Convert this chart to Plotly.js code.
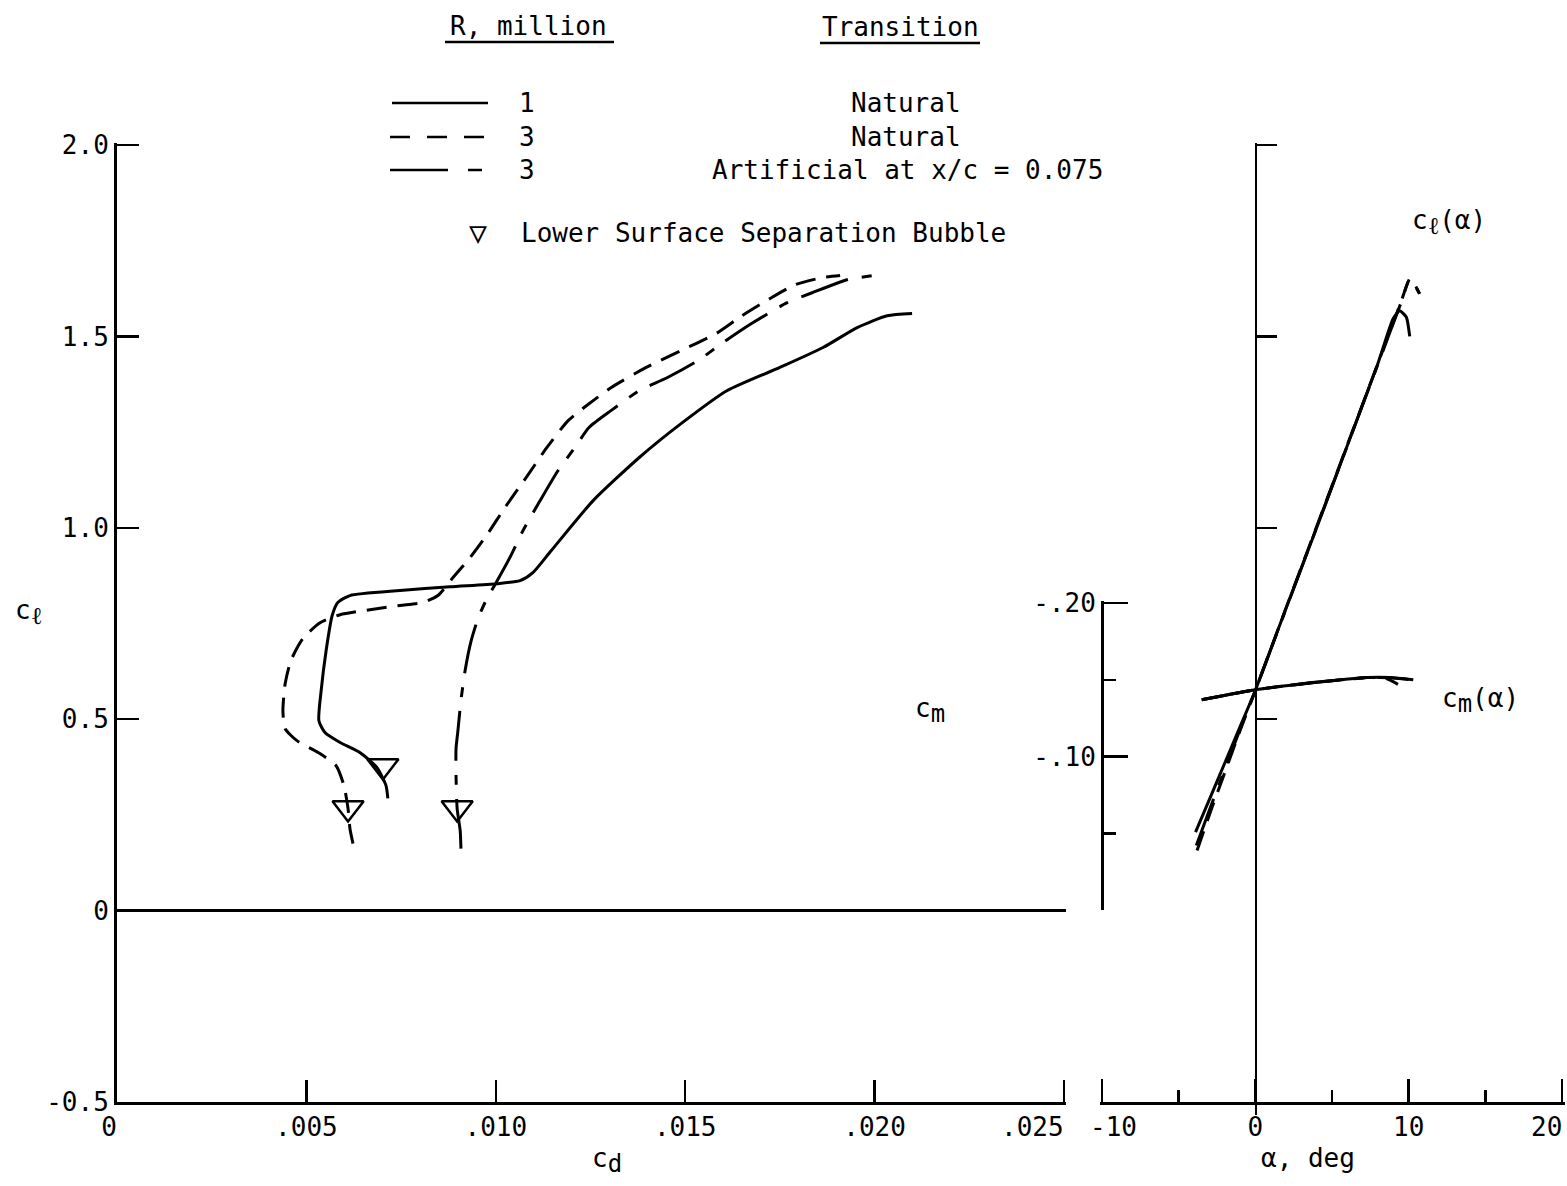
<!DOCTYPE html>
<html>
<head>
<meta charset="utf-8">
<script src="https://cdn.plot.ly/plotly-3.0.1.min.js"></script>
<style>html,body{margin:0;padding:0;background:#fff;}#chart{width:1567px;height:1186px;}</style>
</head>
<body>
<div id="chart"></div>
<script>
// ---------------- DATA ----------------
// Drag polar, R = 1 million, natural transition
const cd_R1n = [0.00715,0.00710,0.00686,0.00641,0.00589,0.00549,0.00533,0.00539,0.00552,0.00568,0.00583,0.00615,0.00747,0.00879,0.01003,0.01064,0.01098,0.01146,0.01257,0.01378,0.01489,0.01610,0.01750,0.01864,0.01954,0.02033,0.02099];
const cl_R1n = [0.293,0.327,0.374,0.413,0.439,0.465,0.496,0.575,0.679,0.771,0.805,0.823,0.836,0.846,0.854,0.862,0.883,0.940,1.071,1.183,1.272,1.358,1.419,1.471,1.523,1.554,1.560];
// R = 3 million, natural transition
const cd_R3n = [0.00623,0.00615,0.00610,0.00599,0.00578,0.00531,0.00475,0.00444,0.00438,0.00444,0.00459,0.00491,0.00536,0.00589,0.00668,0.00747,0.00808,0.00847,0.00887,0.00932,0.00979,0.01024,0.01080,0.01135,0.01191,0.01246,0.01304,0.01397,0.01489,0.01534,0.01581,0.01650,0.01724,0.01790,0.01864,0.01909];
const cl_R3n = [0.175,0.214,0.266,0.327,0.379,0.413,0.444,0.475,0.522,0.593,0.653,0.711,0.752,0.773,0.786,0.797,0.805,0.823,0.870,0.922,0.985,1.053,1.131,1.210,1.280,1.324,1.366,1.419,1.463,1.484,1.507,1.554,1.599,1.635,1.654,1.659];
// R = 3 million, artificial transition at x/c = 0.075
const cd_R3a = [0.00908,0.00906,0.00898,0.00895,0.00895,0.00900,0.00908,0.00919,0.00935,0.00953,0.00974,0.01001,0.01037,0.01072,0.01117,0.01164,0.01209,0.01246,0.01304,0.01378,0.01452,0.01534,0.01600,0.01674,0.01769,0.01835,0.01927,0.01998];
const cl_R3a = [0.162,0.209,0.266,0.353,0.423,0.470,0.549,0.627,0.705,0.763,0.810,0.857,0.922,0.993,1.071,1.149,1.210,1.262,1.306,1.358,1.392,1.437,1.484,1.533,1.588,1.614,1.648,1.659];
// Lower surface separation bubble symbols
const bubble_cd = [0.00702,0.00610,0.00898];
const bubble_cl = [0.378,0.268,0.268];

// Lift curves c_l(alpha)
const alpha_cl_R1n = [-3.9,-3.0,-2.0,-1.0,0.0,2.0,4.0,6.0,8.0,8.97,9.41,9.85,10.07];
const cl_alpha_R1n = [0.205,0.290,0.385,0.480,0.575,0.790,1.000,1.215,1.430,1.545,1.567,1.550,1.500];
const alpha_cl_R3n = [-3.8,-3.0,-2.0,-1.0,0.0,2.0,5.0,8.0,9.5,10.07,10.4,10.72];
const cl_alpha_R3n = [0.157,0.250,0.360,0.470,0.575,0.790,1.110,1.430,1.590,1.650,1.635,1.611];
const alpha_cl_R3a = [-3.85,-3.0,-2.0,-1.0,0.0,2.0,5.0,8.0,9.5,10.05,10.4,10.7];
const cl_alpha_R3a = [0.170,0.262,0.368,0.473,0.575,0.788,1.108,1.428,1.588,1.648,1.633,1.612];

// Pitching moment c_m(alpha)
const alpha_cm_R1n = [-3.5,0.0,3.7,7.3,8.8,10.3];
const cm_R1n = [-0.137,-0.1435,-0.148,-0.1515,-0.1515,-0.150];
const alpha_cm_R3n = [-3.5,0.0,3.7,7.3,8.5,9.3];
const cm_R3n = [-0.137,-0.1435,-0.148,-0.1515,-0.151,-0.147];
const alpha_cm_R3a = [-3.4,0.0,3.7,7.3,8.8,10.0];
const cm_R3a = [-0.1372,-0.1435,-0.1482,-0.1513,-0.1513,-0.1502];

// Tick values / labels (end labels are placed beside their ticks below)
const cdTicks = [0,0.005,0.010,0.015,0.020,0.025];
const cdTickText = ['0\u00a0','.005','.010','.015','.020',''];
const cdEndLabel = '.025';
const clTicks = [-0.5,0,0.5,1.0,1.5,2.0];
const clTickText = ['-0.5','0','0.5','1.0','1.5','2.0'];
const clRightTicks = [0.5,1.0,1.5,2.0];
const alphaTicks = [-10,0,10,20];
const alphaTickText = ['','0','10',''];
const alphaStartLabel = '-10';
const alphaEndLabel = '20';
const alphaMinor = [-5,5,15];
const cmTicks = [-0.20,-0.10];
const cmTickText = ['-.20','-.10'];
const cmMinor = [-0.15,-0.05];

// ---------------- STYLE ----------------
const W = 1567, H = 1186;
const fx = p => p / W;
const fy = p => 1 - p / H;
const FONT = 'DejaVu Sans Mono, monospace';
const DASH = '20px,11px';
const DASHDOT = '50px,14px,10px,14px';
const LW = 3;
const sub = s => '<sub><span style="font-size:24px">' + s + '</span></sub>';

// pixel scales (px per data unit) used to extend axis ends by a couple of pixels
const CD_PX = 947 / 0.025, CL_PX = 382.8, AL_PX = 460 / 30, CM_PX = 307 / 0.2;

const traces = [
  {x: cd_R1n, y: cl_R1n, xaxis:'x', yaxis:'y', mode:'lines', line:{color:'black', width:LW, shape:'spline', smoothing:0.6}},
  {x: cd_R3n, y: cl_R3n, xaxis:'x', yaxis:'y', mode:'lines', line:{color:'black', width:LW, dash:DASH, shape:'spline', smoothing:0.6}},
  {x: cd_R3a, y: cl_R3a, xaxis:'x', yaxis:'y', mode:'lines', line:{color:'black', width:LW, dash:DASHDOT, shape:'spline', smoothing:0.6}},
  {x: bubble_cd, y: bubble_cl, xaxis:'x', yaxis:'y', mode:'markers', marker:{symbol:'triangle-down-open', size:27, color:'black', line:{width:2.5, color:'black'}}},
  {x: alpha_cl_R1n, y: cl_alpha_R1n, xaxis:'x2', yaxis:'y2', mode:'lines', line:{color:'black', width:LW, shape:'spline', smoothing:0.5}},
  {x: alpha_cl_R3n, y: cl_alpha_R3n, xaxis:'x2', yaxis:'y2', mode:'lines', line:{color:'black', width:LW, dash:DASH, shape:'spline', smoothing:0.5}},
  {x: alpha_cl_R3a, y: cl_alpha_R3a, xaxis:'x2', yaxis:'y2', mode:'lines', line:{color:'black', width:LW, dash:DASHDOT, shape:'spline', smoothing:0.5}},
  {x: alpha_cm_R1n, y: cm_R1n, xaxis:'x2', yaxis:'y3', mode:'lines', line:{color:'black', width:LW, shape:'spline', smoothing:0.5}},
  {x: alpha_cm_R3n, y: cm_R3n, xaxis:'x2', yaxis:'y3', mode:'lines', line:{color:'black', width:LW, dash:DASH, shape:'spline', smoothing:0.5}},
  {x: alpha_cm_R3a, y: cm_R3a, xaxis:'x2', yaxis:'y3', mode:'lines', line:{color:'black', width:LW, dash:DASHDOT, shape:'spline', smoothing:0.5}}
];
traces.forEach(t => { t.hoverinfo = 'skip'; t.showlegend = false; });

const tickFont = {family: FONT, size: 26, color: 'black'};
const axBase = {showgrid:false, zeroline:false, showline:true, linecolor:'black', linewidth:3,
  tickcolor:'black', tickwidth:2.5, tickfont:tickFont, tickmode:'array', fixedrange:true,
  ticklabeloverflow:'allow'};

function ann(text, x, y, size, extra) {
  return Object.assign({text: text, x: fx(x), y: fy(y), xref:'paper', yref:'paper',
    xanchor:'center', yanchor:'middle', showarrow:false,
    font:{family: FONT, size: size || 26, color:'black'}}, extra || {});
}
// tick label placed at a data x-position on a given x axis, beside its tick
function tickAnn(text, xref, xval, anchor, shift) {
  return {text: text, xref: xref, x: xval, yref:'paper', y: fy(1127), xanchor: anchor, yanchor:'middle',
    xshift: shift, showarrow:false, font:{family: FONT, size: 26, color:'black'}};
}

const layout = {
  width: W, height: H,
  margin: {l:0, r:0, t:0, b:0},
  paper_bgcolor: 'white', plot_bgcolor: 'rgba(0,0,0,0)',
  showlegend: false,
  font: {family: FONT, size: 26, color: 'black'},
  xaxis: Object.assign({}, axBase, {domain:[fx(117), fx(1066)], range:[0, 0.025 + 2/CD_PX], anchor:'y',
    ticks:'inside', ticklen:22, tickvals:cdTicks, ticktext:cdTickText}),
  yaxis: Object.assign({}, axBase, {domain:[fy(1102), fy(143)], range:[-0.5, 2.0 + 2/CL_PX], anchor:'x',
    ticks:'inside', ticklen:22, tickvals:clTicks, ticktext:clTickText,
    zeroline:true, zerolinecolor:'black', zerolinewidth:3}),
  xaxis2: Object.assign({}, axBase, {domain:[fx(1100), fx(1565)], range:[-10 - 2/AL_PX, 20 + 3/AL_PX], anchor:'y',
    ticks:'inside', ticklen:23, tickvals:alphaTicks, ticktext:alphaTickText,
    minor:{tickmode:'array', tickvals:alphaMinor, ticks:'inside', ticklen:12, tickwidth:2.5, tickcolor:'black', showgrid:false}}),
  yaxis2: Object.assign({}, axBase, {domain:[fy(1115), fy(143)], range:[-0.5 - 13/CL_PX, 2.0 + 2/CL_PX], anchor:'free',
    position: fx(1256), side:'right', linewidth:2, ticks:'outside', ticklen:20, tickvals:clRightTicks, showticklabels:false}),
  yaxis3: Object.assign({}, axBase, {domain:[fy(910), fy(601)], range:[0, -0.2 - 2/CM_PX], anchor:'free',
    position: fx(1102), side:'left', ticks:'inside', ticklen:24, tickvals:cmTicks, ticktext:cmTickText,
    minor:{tickmode:'array', tickvals:cmMinor, ticks:'inside', ticklen:12, tickwidth:2.5, tickcolor:'black', showgrid:false}}),
  shapes: [
    {type:'line', xref:'paper', yref:'paper', x0:fx(445), x1:fx(614), y0:fy(42), y1:fy(42), line:{color:'black', width:2.5}},
    {type:'line', xref:'paper', yref:'paper', x0:fx(820), x1:fx(980), y0:fy(43), y1:fy(43), line:{color:'black', width:2.5}},
    {type:'line', xref:'paper', yref:'paper', x0:fx(392), x1:fx(488), y0:fy(103), y1:fy(103), line:{color:'black', width:2.5}},
    {type:'line', xref:'paper', yref:'paper', x0:fx(390), x1:fx(484), y0:fy(137), y1:fy(137), line:{color:'black', width:2.5, dash:'20px,17px'}},
    {type:'line', xref:'paper', yref:'paper', x0:fx(390), x1:fx(482), y0:fy(170), y1:fy(170), line:{color:'black', width:2.5, dash:'58px,20px,14px,100px'}}
  ],
  annotations: [
    ann('R, million', 528, 26),
    ann('Transition', 900, 27),
    ann('1', 527, 103),
    ann('3', 527, 137),
    ann('3', 527, 170),
    ann('Natural', 906, 103),
    ann('Natural', 906, 137),
    ann('Artificial at x/c = 0.075', 907, 170),
    ann('\u25BD', 478, 232, 30),
    ann('Lower Surface Separation Bubble', 763, 233),
    ann('c' + sub('\u2113'), 28, 612),
    ann('c' + sub('m'), 930, 710),
    ann('c' + sub('d'), 607, 1160),
    ann('\u03B1, deg', 1308, 1158),
    ann('c' + sub('\u2113') + '(\u03B1)', 1449, 222),
    ann('c' + sub('m') + '(\u03B1)', 1480, 700),
    tickAnn(cdEndLabel, 'x', 0.025, 'right', 2),
    tickAnn(alphaStartLabel, 'x2', -10, 'left', -14),
    tickAnn(alphaEndLabel, 'x2', 20, 'right', 2)
  ]
};

Plotly.newPlot('chart', traces, layout, {displayModeBar:false, staticPlot:true});
</script>
</body>
</html>
